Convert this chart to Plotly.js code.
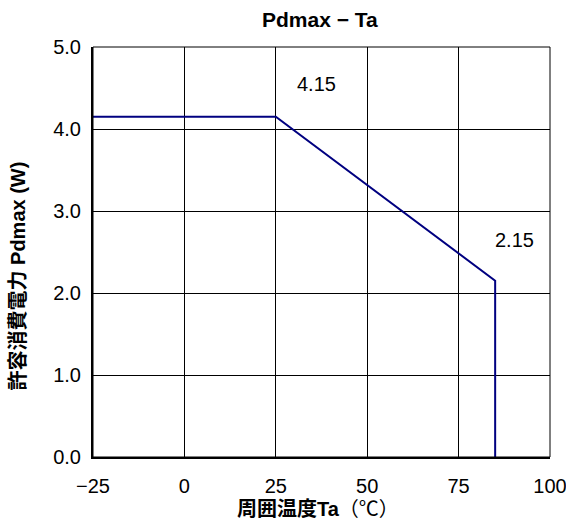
<!DOCTYPE html>
<html>
<head>
<meta charset="utf-8">
<script src="https://cdn.plot.ly/plotly-3.0.1.min.js"></script>
<style>html,body{margin:0;padding:0;background:#fff;}#chart{width:566px;height:521px;}</style>
</head>
<body>
<div id="chart"></div>
<script>
const ta = [-25, 25, 85, 85];
const pdmax = [4.15, 4.15, 2.15, 0];
const xTickVals = [-25, 0, 25, 50, 75, 100];
const xTickText = ['\u221225', '0', '25', '50', '75', '100'];
const yTickVals = [0, 1, 2, 3, 4, 5];
const yTickText = ['0.0', '1.0', '2.0', '3.0', '4.0', '5.0'];
const annX = [36, 90.3];
const annY = [4.55, 2.65];
const annText = ['4.15', '2.15'];

const FONT = 'Liberation Sans, Arial, "Noto Sans CJK JP", sans-serif';

const trace = {
  x: ta, y: pdmax, type: 'scatter', mode: 'lines',
  line: {color: '#000080', width: 2},
  hoverinfo: 'skip'
};

const PL = 93, PR = 550, PT = 47, PB = 457;
const W = 566, H = 521;

const layout = {
  width: W, height: H,
  margin: {l: PL, r: W - PR, t: PT, b: H - PB},
  paper_bgcolor: '#fff', plot_bgcolor: '#fff',
  showlegend: false,
  font: {family: FONT, size: 20, color: '#000'},
  xaxis: {
    range: [-25, 100], tickvals: xTickVals, ticktext: xTickText,
    showgrid: true, gridcolor: '#000', gridwidth: 1,
    showline: true, linecolor: '#000', linewidth: 2,
    ticks: '', zeroline: false, fixedrange: true,
    ticklabelstandoff: 10, ticklabeloverflow: 'allow',
    tickfont: {size: 20, family: FONT}
  },
  yaxis: {
    range: [0, 5], tickvals: yTickVals, ticktext: yTickText,
    showgrid: true, gridcolor: '#000', gridwidth: 1,
    showline: true, linecolor: '#000', linewidth: 2,
    ticks: '', zeroline: false, fixedrange: true,
    ticklabelstandoff: 6, ticklabeloverflow: 'allow',
    tickfont: {size: 20, family: FONT}
  },
  shapes: [{type: 'rect', xref: 'paper', yref: 'paper', x0: 0, x1: 1, y0: 0, y1: 1,
            line: {color: '#000', width: 1}}],
  annotations: annText.map((t, i) => ({
    x: annX[i], y: annY[i], xref: 'x', yref: 'y', text: t, showarrow: false,
    font: {size: 20, family: FONT, color: '#000'}
  })).concat([
    {xref: 'paper', yref: 'paper', x: (320 - PL) / (PR - PL), y: (PB - 20) / (PB - PT),
     xanchor: 'center', yanchor: 'middle', showarrow: false,
     text: '<b>Pdmax \u2212 Ta</b>', font: {size: 21, family: FONT, color: '#000'}},
    {xref: 'paper', yref: 'paper', x: (318 - PL) / (PR - PL), y: (PB - 509.5) / (PB - PT),
     xanchor: 'center', yanchor: 'middle', showarrow: false,
     text: '<b>周囲温度Ta</b>（℃）', font: {size: 20, family: FONT, color: '#000'}},
    {xref: 'paper', yref: 'paper', x: (17.5 - PL) / (PR - PL), y: (PB - 276) / (PB - PT),
     xanchor: 'center', yanchor: 'middle', showarrow: false, textangle: -90,
     text: '<b>許容消費電力 Pdmax (W)</b>', font: {size: 20, family: FONT, color: '#000'}}
  ])
};

Plotly.newPlot('chart', [trace], layout, {staticPlot: true, displayModeBar: false});
</script>
</body>
</html>
